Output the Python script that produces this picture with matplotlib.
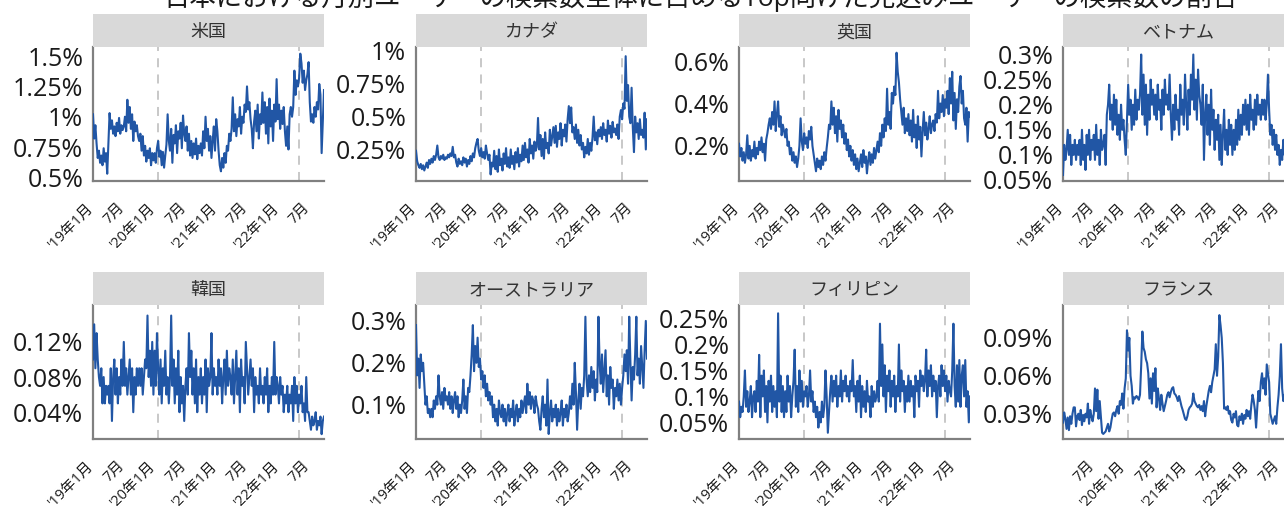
import numpy as np
import pandas as pd
import matplotlib
matplotlib.use('Agg')
import matplotlib.pyplot as plt

# fonts: latin digits in Open Sans, japanese falls back to Noto CJK
plt.rcParams['font.family'] = ['Open Sans', 'Noto Sans CJK JP', 'DejaVu Sans']

# weekly series, first week 2018-12-10 (values in %)
dates = pd.date_range('2018-12-10', periods=196, freq='7D')

us = [
    1.02, 0.82, 0.93, 0.78, 0.66, 0.72, 0.62, 0.68, 0.60, 0.74, 0.63, 0.70, 0.53,
    0.78, 1.03, 0.90, 0.97, 0.86, 0.92, 0.84, 0.95, 0.88, 0.99, 0.86, 0.93, 0.89,
    0.92, 1.00, 0.88, 1.14, 0.95, 1.08, 0.90, 1.02, 0.80, 0.96, 0.88, 0.93, 0.84,
    0.80, 0.86, 0.72, 0.84, 0.68, 0.76, 0.63, 0.72, 0.66, 0.74, 0.60, 0.70, 0.64,
    0.70, 0.62, 0.74, 0.80, 0.67, 0.72, 0.60, 0.71, 0.58, 0.68, 0.77, 1.02, 0.80,
    0.72, 0.90, 0.62, 0.85, 0.78, 0.93, 0.70, 0.88, 0.82, 0.95, 0.74, 1.01, 0.86,
    0.80, 0.92, 0.72, 0.86, 0.68, 0.80, 0.66, 0.78, 0.69, 0.82, 0.65, 0.76, 0.70,
    0.78, 0.68, 0.88, 0.74, 1.00, 0.80, 0.90, 0.72, 0.84, 0.66, 0.80, 0.92, 0.72,
    0.98, 0.88, 0.72, 0.60, 0.55, 0.66, 0.58, 0.70, 0.62, 0.76, 0.72, 0.86, 0.80,
    0.90, 1.16, 0.88, 1.02, 0.84, 0.98, 0.92, 1.08, 0.86, 1.00, 0.95, 1.10, 1.04,
    1.25, 1.06, 1.12, 0.98, 0.90, 0.74, 0.96, 1.05, 0.88, 1.10, 0.82, 1.02, 0.94,
    1.20, 0.95, 1.12, 0.86, 1.08, 0.78, 1.15, 0.92, 1.05, 0.80, 1.10, 0.96, 1.31,
    0.98, 1.10, 0.90, 1.05, 0.94, 1.08, 0.88, 0.76, 0.92, 0.73, 1.02, 1.08, 1.00,
    1.08, 1.38, 1.18, 1.30, 1.25, 1.32, 1.52, 1.44, 1.28, 1.38, 1.22, 1.30, 1.35,
    1.45, 1.12, 0.96, 1.02, 0.95, 1.08, 1.00, 1.12, 1.06, 1.27, 1.18, 0.70, 0.95,
    1.22]

canada = [
    0.24, 0.16, 0.13, 0.11, 0.14, 0.10, 0.13, 0.09, 0.12, 0.15, 0.11, 0.17, 0.14,
    0.18, 0.15, 0.20, 0.17, 0.21, 0.28, 0.19, 0.17, 0.20, 0.18, 0.21, 0.17, 0.19,
    0.18, 0.21, 0.19, 0.22, 0.20, 0.27, 0.19, 0.21, 0.15, 0.12, 0.18, 0.14, 0.16,
    0.13, 0.19, 0.15, 0.18, 0.12, 0.17, 0.14, 0.20, 0.16, 0.22, 0.19, 0.26, 0.30,
    0.33, 0.24, 0.20, 0.26, 0.19, 0.23, 0.18, 0.28, 0.22, 0.17, 0.21, 0.06, 0.15,
    0.12, 0.24, 0.10, 0.20, 0.08, 0.25, 0.13, 0.18, 0.09, 0.22, 0.14, 0.26, 0.12,
    0.19, 0.11, 0.25, 0.14, 0.20, 0.10, 0.23, 0.15, 0.26, 0.12, 0.21, 0.16, 0.28,
    0.17, 0.30, 0.19, 0.25, 0.15, 0.33, 0.22, 0.28, 0.18, 0.31, 0.24, 0.27, 0.49,
    0.25, 0.36, 0.20, 0.33, 0.18, 0.38, 0.26, 0.30, 0.22, 0.40, 0.28, 0.35, 0.42,
    0.30, 0.43, 0.27, 0.38, 0.33, 0.45, 0.28, 0.40, 0.35, 0.44, 0.31, 0.48, 0.58,
    0.45, 0.57, 0.38, 0.42, 0.33, 0.44, 0.30, 0.40, 0.28, 0.36, 0.25, 0.30, 0.19,
    0.27, 0.22, 0.33, 0.21, 0.30, 0.24, 0.34, 0.50, 0.32, 0.38, 0.29, 0.40, 0.35,
    0.42, 0.33, 0.45, 0.36, 0.40, 0.31, 0.47, 0.37, 0.43, 0.34, 0.46, 0.38, 0.41,
    0.36, 0.44, 0.33, 0.50, 0.55, 0.48, 0.60, 0.56, 0.96, 0.62, 0.74, 0.50, 0.45,
    0.72, 0.42, 0.23, 0.50, 0.38, 0.45, 0.33, 0.48, 0.36, 0.40, 0.34, 0.53, 0.25,
    0.48]

uk = [
    0.21, 0.15, 0.19, 0.13, 0.17, 0.12, 0.16, 0.25, 0.14, 0.20, 0.13, 0.18, 0.15,
    0.22, 0.14, 0.19, 0.16, 0.22, 0.18, 0.24, 0.17, 0.21, 0.13, 0.23, 0.26, 0.30,
    0.33, 0.28, 0.36, 0.30, 0.41, 0.27, 0.35, 0.41, 0.29, 0.34, 0.25, 0.30, 0.27,
    0.24, 0.28, 0.20, 0.22, 0.16, 0.19, 0.13, 0.17, 0.12, 0.15, 0.10, 0.14, 0.20,
    0.33, 0.22, 0.18, 0.26, 0.21, 0.24, 0.19, 0.27, 0.23, 0.29, 0.20, 0.16, 0.12,
    0.08, 0.14, 0.10, 0.13, 0.09, 0.15, 0.11, 0.17, 0.13, 0.19, 0.24, 0.30, 0.28,
    0.41, 0.30, 0.38, 0.26, 0.34, 0.22, 0.37, 0.28, 0.32, 0.24, 0.30, 0.21, 0.26,
    0.18, 0.23, 0.15, 0.20, 0.13, 0.18, 0.11, 0.16, 0.09, 0.14, 0.08, 0.12, 0.16,
    0.10, 0.18, 0.12, 0.15, 0.07, 0.13, 0.17, 0.11, 0.16, 0.12, 0.19, 0.14, 0.18,
    0.22, 0.17, 0.26, 0.20, 0.30, 0.24, 0.33, 0.27, 0.47, 0.30, 0.36, 0.28, 0.45,
    0.40, 0.48, 0.44, 0.64, 0.55, 0.50, 0.42, 0.36, 0.30, 0.38, 0.26, 0.33, 0.27,
    0.35, 0.25, 0.32, 0.22, 0.37, 0.24, 0.30, 0.19, 0.34, 0.23, 0.29, 0.15, 0.27,
    0.36, 0.25, 0.31, 0.23, 0.28, 0.34, 0.26, 0.30, 0.32, 0.27, 0.35, 0.31, 0.46,
    0.33, 0.40, 0.36, 0.44, 0.34, 0.42, 0.38, 0.46, 0.35, 0.52, 0.40, 0.55, 0.32,
    0.45, 0.28, 0.42, 0.36, 0.48, 0.53, 0.40, 0.46, 0.33, 0.30, 0.38, 0.22, 0.36,
    0.34]

vietnam = [
    0.06, 0.12, 0.09, 0.11, 0.15, 0.10, 0.14, 0.08, 0.12, 0.10, 0.13, 0.09, 0.12,
    0.10, 0.13, 0.08, 0.15, 0.09, 0.12, 0.07, 0.14, 0.10, 0.15, 0.09, 0.13, 0.11,
    0.14, 0.09, 0.16, 0.10, 0.13, 0.08, 0.15, 0.11, 0.12, 0.14, 0.08, 0.18, 0.20,
    0.24, 0.17, 0.20, 0.15, 0.22, 0.16, 0.21, 0.14, 0.18, 0.13, 0.20, 0.15, 0.17,
    0.13, 0.10, 0.17, 0.24, 0.18, 0.21, 0.15, 0.20, 0.16, 0.23, 0.17, 0.21, 0.19,
    0.22, 0.30, 0.18, 0.26, 0.16, 0.24, 0.14, 0.22, 0.17, 0.25, 0.20, 0.23, 0.18,
    0.22, 0.17, 0.24, 0.19, 0.21, 0.15, 0.23, 0.18, 0.25, 0.20, 0.22, 0.19, 0.26,
    0.18, 0.13, 0.20, 0.15, 0.22, 0.17, 0.19, 0.14, 0.24, 0.18, 0.21, 0.16, 0.26,
    0.20, 0.15, 0.23, 0.18, 0.26, 0.21, 0.30, 0.19, 0.25, 0.17, 0.27, 0.22, 0.20,
    0.16, 0.24, 0.09, 0.18, 0.22, 0.14, 0.20, 0.12, 0.23, 0.15, 0.19, 0.11, 0.17,
    0.13, 0.18, 0.09, 0.16, 0.08, 0.14, 0.19, 0.11, 0.15, 0.10, 0.17, 0.12, 0.16,
    0.10, 0.15, 0.11, 0.17, 0.12, 0.19, 0.13, 0.18, 0.14, 0.20, 0.16, 0.21, 0.15,
    0.20, 0.14, 0.22, 0.17, 0.19, 0.15, 0.21, 0.16, 0.22, 0.18, 0.20, 0.17, 0.21,
    0.18, 0.21, 0.17, 0.20, 0.26, 0.19, 0.14, 0.16, 0.12, 0.15, 0.11, 0.14, 0.10,
    0.12, 0.08, 0.11, 0.09, 0.13, 0.10, 0.12, 0.09, 0.11, 0.10, 0.12, 0.09, 0.11,
    0.10]

korea = [
    0.10, 0.14, 0.09, 0.13, 0.10, 0.08, 0.07, 0.09, 0.05, 0.08, 0.05, 0.07, 0.06,
    0.07, 0.05, 0.09, 0.03, 0.08, 0.10, 0.06, 0.09, 0.05, 0.08, 0.06, 0.10, 0.07,
    0.12, 0.07, 0.09, 0.06, 0.08, 0.10, 0.06, 0.09, 0.04, 0.08, 0.06, 0.09, 0.07,
    0.09, 0.07, 0.09, 0.06, 0.08, 0.10, 0.09, 0.15, 0.08, 0.11, 0.07, 0.12, 0.06,
    0.11, 0.07, 0.13, 0.09, 0.06, 0.10, 0.05, 0.09, 0.07, 0.11, 0.06, 0.08, 0.05,
    0.08, 0.15, 0.07, 0.10, 0.05, 0.09, 0.06, 0.11, 0.04, 0.08, 0.05, 0.07, 0.03,
    0.07, 0.09, 0.06, 0.13, 0.08, 0.11, 0.06, 0.09, 0.05, 0.10, 0.04, 0.08, 0.06,
    0.09, 0.05, 0.08, 0.06, 0.10, 0.04, 0.09, 0.07, 0.08, 0.13, 0.06, 0.09, 0.07,
    0.08, 0.06, 0.10, 0.07, 0.09, 0.05, 0.08, 0.10, 0.06, 0.11, 0.07, 0.09, 0.08,
    0.06, 0.10, 0.05, 0.08, 0.11, 0.06, 0.09, 0.04, 0.10, 0.07, 0.08, 0.05, 0.12,
    0.09, 0.06, 0.08, 0.10, 0.07, 0.09, 0.04, 0.08, 0.06, 0.07, 0.05, 0.09, 0.06,
    0.07, 0.05, 0.08, 0.06, 0.09, 0.04, 0.07, 0.05, 0.08, 0.06, 0.12, 0.06, 0.08,
    0.07, 0.05, 0.08, 0.06, 0.07, 0.04, 0.06, 0.05, 0.07, 0.04, 0.06, 0.05, 0.07,
    0.03, 0.08, 0.05, 0.07, 0.04, 0.06, 0.05, 0.07, 0.04, 0.05, 0.03, 0.08, 0.04,
    0.04, 0.03, 0.02, 0.035, 0.025, 0.03, 0.04, 0.02, 0.03, 0.025, 0.035, 0.015, 0.03,
    0.035]

australia = [
    0.29, 0.17, 0.21, 0.14, 0.22, 0.18, 0.20, 0.15, 0.10, 0.12, 0.08, 0.09, 0.07,
    0.09, 0.07, 0.11, 0.09, 0.12, 0.10, 0.17, 0.12, 0.10, 0.13, 0.09, 0.14, 0.11,
    0.12, 0.10, 0.13, 0.09, 0.12, 0.08, 0.11, 0.13, 0.09, 0.12, 0.07, 0.10, 0.08,
    0.11, 0.16, 0.09, 0.12, 0.08, 0.14, 0.13, 0.17, 0.22, 0.29, 0.18, 0.24, 0.20,
    0.26, 0.19, 0.21, 0.16, 0.18, 0.14, 0.17, 0.12, 0.15, 0.11, 0.13, 0.10, 0.12,
    0.07, 0.10, 0.06, 0.09, 0.05, 0.11, 0.08, 0.07, 0.10, 0.06, 0.09, 0.05, 0.08,
    0.10, 0.06, 0.09, 0.07, 0.11, 0.05, 0.08, 0.10, 0.06, 0.09, 0.07, 0.11, 0.08,
    0.10, 0.12, 0.08, 0.15, 0.10, 0.13, 0.09, 0.12, 0.11, 0.08, 0.12, 0.10, 0.09,
    0.06, 0.04, 0.09, 0.12, 0.07, 0.10, 0.05, 0.16, 0.03, 0.08, 0.11, 0.06, 0.09,
    0.07, 0.10, 0.05, 0.09, 0.06, 0.08, 0.11, 0.05, 0.09, 0.07, 0.10, 0.06, 0.08,
    0.12, 0.09, 0.15, 0.10, 0.20, 0.13, 0.04, 0.11, 0.15, 0.09, 0.14, 0.12, 0.17,
    0.31, 0.16, 0.12, 0.17, 0.13, 0.19, 0.14, 0.18, 0.11, 0.16, 0.13, 0.31, 0.20,
    0.15, 0.22, 0.13, 0.18, 0.23, 0.12, 0.17, 0.10, 0.19, 0.14, 0.16, 0.09, 0.14,
    0.12, 0.16, 0.11, 0.15, 0.10, 0.14, 0.17, 0.22, 0.18, 0.23, 0.15, 0.31, 0.20,
    0.11, 0.19, 0.16, 0.22, 0.31, 0.17, 0.21, 0.15, 0.24, 0.19, 0.14, 0.23, 0.30,
    0.21]

philippines = [
    0.09, 0.06, 0.08, 0.07, 0.10, 0.15, 0.08, 0.11, 0.07, 0.09, 0.12, 0.06, 0.10,
    0.11, 0.07, 0.13, 0.09, 0.18, 0.06, 0.14, 0.10, 0.15, 0.07, 0.12, 0.05, 0.13,
    0.09, 0.14, 0.07, 0.12, 0.08, 0.11, 0.06, 0.26, 0.09, 0.14, 0.07, 0.12, 0.06,
    0.11, 0.07, 0.14, 0.09, 0.12, 0.06, 0.10, 0.13, 0.19, 0.08, 0.12, 0.07, 0.15,
    0.09, 0.13, 0.08, 0.11, 0.10, 0.12, 0.08, 0.10, 0.15, 0.09, 0.11, 0.07, 0.09,
    0.06, 0.08, 0.04, 0.07, 0.05, 0.09, 0.06, 0.08, 0.15, 0.10, 0.03, 0.07, 0.11,
    0.14, 0.09, 0.13, 0.10, 0.14, 0.08, 0.12, 0.10, 0.15, 0.09, 0.13, 0.11, 0.14,
    0.10, 0.12, 0.09, 0.13, 0.11, 0.17, 0.10, 0.12, 0.07, 0.13, 0.09, 0.14, 0.06,
    0.12, 0.08, 0.11, 0.07, 0.13, 0.09, 0.10, 0.06, 0.12, 0.08, 0.11, 0.09, 0.10,
    0.13, 0.09, 0.24, 0.12, 0.20, 0.10, 0.16, 0.07, 0.14, 0.11, 0.15, 0.08, 0.13,
    0.10, 0.14, 0.07, 0.12, 0.10, 0.20, 0.09, 0.15, 0.11, 0.13, 0.07, 0.12, 0.09,
    0.14, 0.09, 0.13, 0.10, 0.12, 0.06, 0.14, 0.11, 0.13, 0.08, 0.15, 0.12, 0.14,
    0.11, 0.13, 0.19, 0.10, 0.15, 0.12, 0.16, 0.10, 0.14, 0.11, 0.13, 0.06, 0.12,
    0.14, 0.10, 0.16, 0.12, 0.15, 0.11, 0.14, 0.09, 0.13, 0.11, 0.10, 0.15, 0.24,
    0.12, 0.08, 0.16, 0.09, 0.17, 0.08, 0.14, 0.16, 0.10, 0.17, 0.08, 0.11, 0.05,
    0.10]

nan = np.nan
france = [
    0.023, 0.031, 0.026, 0.018, 0.027, 0.017, 0.028, 0.022, 0.030, 0.035, 0.035, 0.020, 0.028,
    0.030, 0.025, 0.033, 0.021, 0.029, 0.024, 0.030, 0.027, 0.038, 0.022, 0.033, 0.028, 0.024,
    0.030, 0.050, 0.032, 0.049, 0.026, 0.040, 0.027, 0.015, 0.014, 0.015, 0.016, 0.019, 0.022,
    0.016, 0.019, 0.025, 0.030, 0.031, 0.028, 0.033, 0.036, 0.030, 0.040, 0.037, 0.046, 0.034,
    0.050, 0.058, 0.096, 0.080, 0.090, 0.060, 0.052, 0.038, 0.043, 0.042, 0.044, 0.043, 0.041,
    0.045, 0.068, 0.095, 0.082, 0.079, 0.073, 0.070, 0.062, 0.042, 0.058, 0.038, 0.062, 0.048,
    0.066, 0.035, 0.050, 0.042, 0.033, 0.045, 0.038, 0.032, 0.036, 0.040, 0.045, 0.047, 0.043,
    0.047, 0.050, 0.051, 0.046, 0.045, 0.043, 0.040, 0.044, 0.040, 0.036, 0.033, nan, 0.026,
    0.025, 0.028, 0.033, 0.035, 0.036, 0.038, 0.046, 0.040, 0.038, 0.036, 0.035, 0.037, 0.033,
    0.036, 0.032, 0.040, 0.028, 0.036, nan, 0.048, 0.052, 0.047, 0.055, 0.060, 0.065, 0.085,
    0.060, 0.075, 0.108, 0.100, 0.090, 0.070, 0.034, 0.035, 0.033, 0.036, 0.030, 0.032, 0.025,
    0.023, 0.030, 0.027, 0.032, 0.021, 0.020, 0.028, 0.025, 0.030, 0.022, 0.029, 0.026, 0.033,
    0.028, 0.032, 0.026, 0.037, 0.045, 0.040, 0.033, 0.019, 0.035, 0.048, 0.040, 0.055, 0.062,
    0.050, 0.058, 0.045, 0.069, 0.062, 0.055, 0.030, 0.026, 0.022, 0.025, 0.028, 0.022, 0.035,
    0.045, 0.060, 0.085, 0.050, 0.040, 0.045, 0.038, 0.042, 0.035, 0.040, 0.037, 0.033, 0.036,
    0.035]

panels = [
    ('米国', us, [0.5, 0.75, 1, 1.25, 1.5], (0.47, 1.575)),
    ('カナダ', canada, [0.25, 0.5, 0.75, 1], (0.01, 1.03)),
    ('英国', uk, [0.2, 0.4, 0.6], (0.034, 0.667)),
    ('ベトナム', vietnam, [0.05, 0.1, 0.15, 0.2, 0.25, 0.3], (0.048, 0.315)),
    ('韓国', korea, [0.04, 0.08, 0.12], (0.0095, 0.162)),
    ('オーストラリア', australia, [0.1, 0.2, 0.3], (0.018, 0.338)),
    ('フィリピン', philippines, [0.05, 0.1, 0.15, 0.2, 0.25], (0.018, 0.276)),
    ('フランス', france, [0.03, 0.06, 0.09], (0.01, 0.116)),
]

tick_dates = pd.to_datetime(['2019-01-01', '2019-07-01', '2020-01-01', '2020-07-01',
                             '2021-01-01', '2021-07-01', '2022-01-01', '2022-07-01'])
tick_labels = ["'19年1月", '7月', "'20年1月", '7月', "'21年1月", '7月', "'22年1月", '7月']
event_dates = pd.to_datetime(['2020-01-01', '2022-04-11'])

title = '日本における月別ユーザーの検索数全体に占めるTop向けた見込みユーザーの検索数の割合'

W, H = 1284, 512
fig = plt.figure(figsize=(W / 100, H / 100), dpi=100)

lefts = [93, 416, 739, 1063]
tops = [47, 305]
pw, ph, sh = 231, 134, 33
line_color = '#2156a5'

for i, (name, vals, yt, yl) in enumerate(panels):
    r, c = divmod(i, 4)
    x0, y0 = lefts[c], tops[r]
    ax = fig.add_axes([x0 / W, 1 - (y0 + ph) / H, pw / W, ph / H])
    s = np.array(vals, dtype=float)
    ok = np.isfinite(s)
    ax.plot(dates[ok], s[ok], color=line_color, lw=1.5, zorder=3)
    for d in event_dates:
        ax.axvline(d, color='#c4c4c4', ls=(0, (5, 4)), lw=1.3, zorder=1)
    ax.set_xlim(dates[0], dates[-1])
    ax.set_ylim(yl)
    ax.set_yticks(yt)
    ax.set_yticklabels([f'{v:g}%' for v in yt], fontsize=18, color='#1a1a1a')
    # france has no data at the first tick
    if name == 'フランス':
        ax.set_xticks(tick_dates[1:])
        ax.set_xticklabels(tick_labels[1:], rotation=45, ha='right', fontsize=10.5)
    else:
        ax.set_xticks(tick_dates)
        ax.set_xticklabels(tick_labels, rotation=45, ha='right', fontsize=10.5)
    ax.tick_params(axis='both', length=0)
    ax.tick_params(axis='y', pad=7)
    ax.tick_params(axis='x', pad=14, colors='#1a1a1a')
    for sp in ['top', 'right']:
        ax.spines[sp].set_visible(False)
    for sp in ['left', 'bottom']:
        ax.spines[sp].set_color('#808080')
        ax.spines[sp].set_linewidth(1.6)

    # facet strip
    st = fig.add_axes([x0 / W, 1 - y0 / H, pw / W, sh / H])
    st.set_facecolor('#d9d9d9')
    st.set_xticks([])
    st.set_yticks([])
    for sp in st.spines.values():
        sp.set_visible(False)
    st.text(0.5, 0.45, name, ha='center', va='center', fontsize=13, color='#333333',
            transform=st.transAxes)

fig.text(701 / W, 1 - 6 / H, title, ha='center', va='baseline', fontsize=19, color='#1a1a1a')

fig.savefig('out.png', dpi=100)
